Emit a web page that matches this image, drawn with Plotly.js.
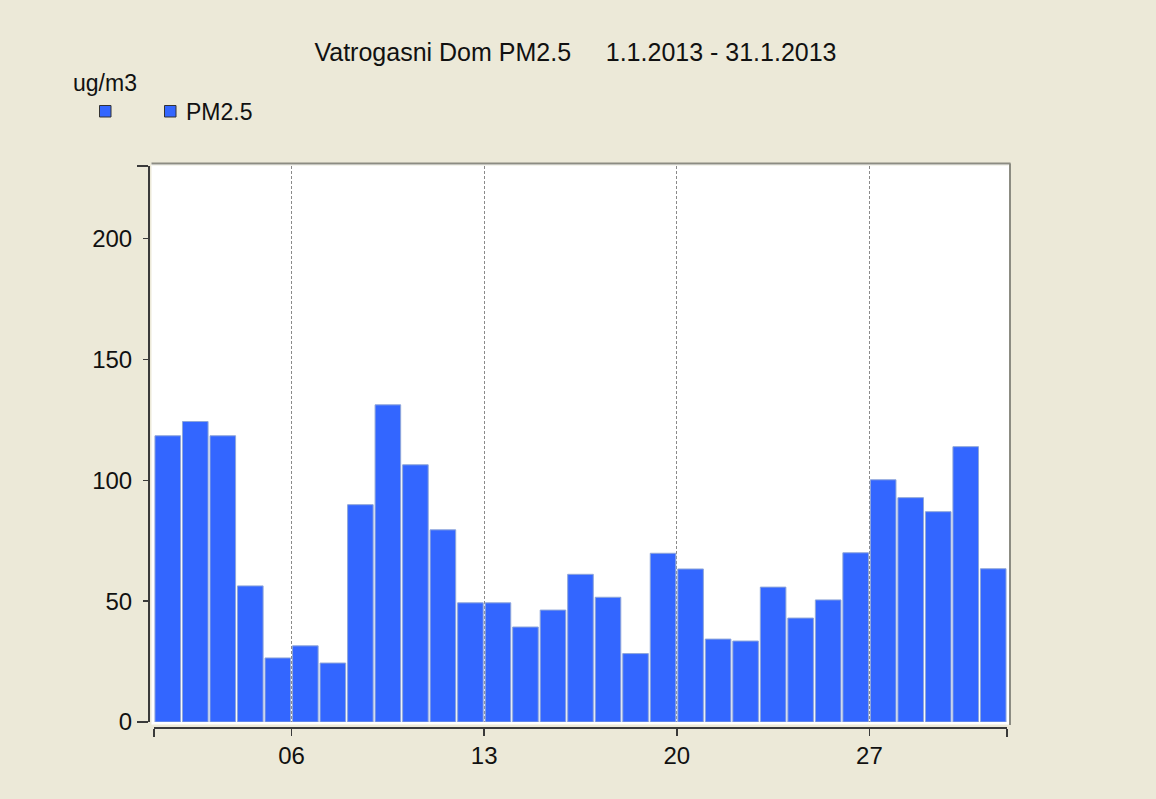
<!DOCTYPE html>
<html>
<head>
<meta charset="utf-8">
<script src="https://cdn.plot.ly/plotly-3.0.1.min.js"></script>
<style>html,body{margin:0;padding:0;background:#ECE9D8;}#chart{width:1156px;height:799px;}</style>
</head>
<body>
<div id="chart"></div>
<script>
// ---- data ----
const days = [1,2,3,4,5,6,7,8,9,10,11,12,13,14,15,16,17,18,19,20,21,22,23,24,25,26,27,28,29,30,31];
const pm25 = [118.4,124.3,118.4,56.3,26.5,31.5,24.4,89.9,131.2,106.4,79.5,49.3,49.3,39.3,46.3,61.1,51.6,28.3,69.8,63.3,34.3,33.5,55.8,43.0,50.5,70.0,100.2,92.8,87.0,113.9,63.4];
const tickDays = [6,13,20,27];
const tickLabels = ['06','13','20','27'];
const yTicks = [0,50,100,150,200];
const seriesName = 'PM2.5';
const unitLabel = 'ug/m3';
const titleText = 'Vatrogasni Dom PM2.5\u00A0\u00A0\u00A0\u00A0\u00A01.1.2013 - 31.1.2013';

const pad = n => (n < 10 ? '0' : '') + n;
const dayCenter = d => '2013-01-' + pad(d) + ' 12:00';
const dayStart = d => '2013-01-' + pad(d);
const DAY = 86400000;

// pixel -> paper helpers (layout only)
const W = 1156, H = 799, ML = 149, MR = 149, MT = 166, MB = 72;
const PW = W - ML - MR, PH = H - MT - MB;
const px = x => (x - ML) / PW;
const py = y => (H - MB - y) / PH;

const font = 'Liberation Sans, Arial, sans-serif';
const axCol = '#3a3a3a';

const trace = {
  type: 'bar',
  x: days.map(dayCenter),
  y: pm25,
  width: days.map(() => 0.93 * DAY),
  name: seriesName,
  marker: {color: '#3366FF', line: {color: '#8FA6D9', width: 1}},
  showlegend: false,
  hoverinfo: 'x+y'
};

const layout = {
  width: W, height: H,
  paper_bgcolor: '#ECE9D8',
  plot_bgcolor: 'rgba(0,0,0,0)',
  margin: {l: ML, r: MR, t: MT, b: MB, pad: 0},
  font: {family: font, color: '#111', size: 24},
  title: {
    text: titleText,
    font: {family: font, size: 25, color: '#111'},
    x: 575.5 / W, xanchor: 'center',
    y: 1 - 52 / H, yanchor: 'middle', xref: 'container', yref: 'container'
  },
  bargap: 0,
  xaxis: {
    type: 'date',
    domain: [px(154), 1],
    range: [dayStart(1), '2013-02-01'],
    anchor: 'free', position: 0,
    showline: true, linecolor: axCol, linewidth: 1.5,
    ticks: 'outside', ticklen: 7, tickwidth: 1.5, tickcolor: axCol,
    tickmode: 'array',
    tickvals: tickDays.map(dayStart),
    ticktext: tickLabels,
    tickfont: {family: font, size: 24, color: '#111'},
    showgrid: true, gridcolor: '#8a8a8a', gridwidth: 1, griddash: '3px,2px',
    minor: {tickmode: 'array', tickvals: [dayStart(1), '2013-02-01'], ticks: 'outside', ticklen: 8, tickwidth: 1.5, tickcolor: axCol, showgrid: false},
    zeroline: false, fixedrange: true
  },
  yaxis: {
    domain: [py(722), 1],
    range: [0, 230],
    anchor: 'free', position: 0,
    showline: true, linecolor: axCol, linewidth: 2,
    ticks: 'outside', ticklen: 5, tickwidth: 1.5, tickcolor: axCol,
    tickmode: 'array', tickvals: yTicks,
    tickfont: {family: font, size: 24, color: '#111'},
    ticklabelstandoff: 6,
    minor: {tickmode: 'array', tickvals: [0, 230], ticks: 'outside', ticklen: 11, tickwidth: 1.5, tickcolor: axCol, showgrid: false},
    showgrid: false, zeroline: false, fixedrange: true
  },
  shapes: [
    {type: 'rect', xref: 'paper', yref: 'paper', x0: px(151.5), x1: px(1009), y0: py(724.5), y1: py(163.5), fillcolor: '#FFFFFF', line: {width: 0}, layer: 'below'},
    {type: 'line', xref: 'paper', yref: 'paper', x0: px(151.5), x1: px(1010.5), y0: py(163.5), y1: py(163.5), line: {color: '#8C8C82', width: 2}, layer: 'below'},
    {type: 'line', xref: 'paper', yref: 'paper', x0: px(1010), x1: px(1010), y0: py(163.5), y1: py(725), line: {color: '#8C8C82', width: 2}, layer: 'below'},
    {type: 'line', xref: 'paper', yref: 'paper', x0: px(151.5), x1: px(1008.5), y0: py(165.5), y1: py(165.5), line: {color: '#F4F4EC', width: 1}, layer: 'below'},
    {type: 'rect', xref: 'paper', yref: 'paper', x0: px(99.5), x1: px(111), y0: py(117), y1: py(105.5), fillcolor: '#3366FF', line: {color: '#333333', width: 1}},
    {type: 'rect', xref: 'paper', yref: 'paper', x0: px(164.5), x1: px(176), y0: py(117), y1: py(105.5), fillcolor: '#3366FF', line: {color: '#333333', width: 1}}
  ],
  annotations: [
    {text: unitLabel, xref: 'paper', yref: 'paper', x: px(71), y: py(83), xanchor: 'left', yanchor: 'middle', showarrow: false, font: {family: font, size: 23, color: '#111'}},
    {text: seriesName, xref: 'paper', yref: 'paper', x: px(184), y: py(112), xanchor: 'left', yanchor: 'middle', showarrow: false, font: {family: font, size: 23, color: '#111'}}
  ]
};

Plotly.newPlot('chart', [trace], layout, {staticPlot: true, displayModeBar: false});
</script>
</body>
</html>
